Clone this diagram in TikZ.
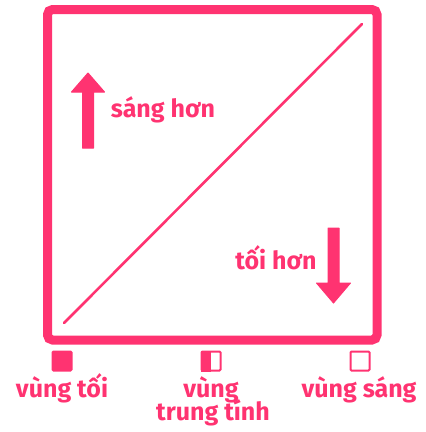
\documentclass[tikz,border=0pt]{standalone}
\usepackage{fontspec}
\setmainfont{Fira Sans}
\definecolor{pinkc}{HTML}{FF3371}
\begin{document}
\begin{tikzpicture}[x=1pt,y=-1pt,
  lbl/.style={font=\bfseries\fontsize{25}{25}\selectfont, text=pinkc, inner sep=0pt, anchor=base},
  swatch/.style={draw=pinkc, line width=2pt, minimum size=19pt, inner sep=0pt, rounded corners=1pt},
  bigarrow/.style={fill=pinkc, draw=pinkc, line width=1pt, line join=round}]
\useasboundingbox (0,0) rectangle (426,432);
% frame
\draw[pinkc, line width=9pt, rounded corners=5pt] (47.5,9.5) rectangle (377,340);
% diagonal
\coordinate (d1) at (64,323);
\coordinate (d2) at (362,24);
\draw[pinkc, line width=2.6pt, line cap=round] (d1) -- (d2);
% up arrow
\draw[bigarrow] (88,73) -- (104.5,92) -- (93.5,92) -- (93.5,148) -- (82.5,148) -- (82.5,92) -- (71.5,92) -- cycle;
% down arrow
\draw[bigarrow] (333.5,303) -- (350.5,283) -- (339,283) -- (339,228) -- (328,228) -- (328,283) -- (316.5,283) -- cycle;
% labels inside
\node[lbl] (sang) at (163,117) {sáng hơn};
\node[lbl] (toi) at (276,269) {tối hơn};
% swatches
\node[swatch, fill=pinkc] (s1) at (62,361) {};
\node[swatch] (s2) at (211,361) {};
\fill[pinkc] (s2.north west) rectangle (s2.south);
\node[swatch] (s3) at (360,361) {};
% bottom labels
\node[lbl] (l1) at (62,397) {vùng tối};
\node[lbl] (l2a) at (211,397) {vùng};
\node[lbl] (l2b) at (213,420) {trung tính};
\node[lbl] (l3) at (359,397) {vùng sáng};
\end{tikzpicture}
\end{document}
